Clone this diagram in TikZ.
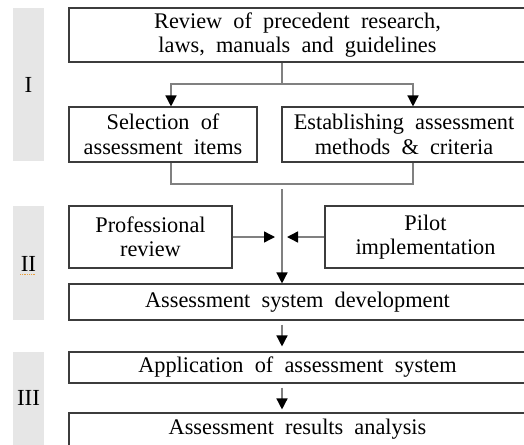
\documentclass[tikz,border=0pt]{standalone}
\usepackage{fontspec}
\setmainfont{Liberation Serif}[WordSpace=2.0]
\usetikzlibrary{arrows.meta,calc}
\definecolor{barfill}{HTML}{E6E6E6}
\definecolor{boxline}{HTML}{3C3C3C}
\definecolor{flowline}{HTML}{808080}
\definecolor{squiggle}{HTML}{E8A040}
\begin{document}
\begin{tikzpicture}[x=1pt,y=-1pt,
  stagebar/.style={fill=barfill,draw=none},
  stagelabel/.style={font=\fontsize{23}{26}\selectfont,inner sep=0pt},
  stepbox/.style={draw=boxline,line width=1.1pt,fill=white,align=center,
    inner sep=0pt,font=\fontsize{22.3}{24.5}\selectfont},
  flow/.style={draw=flowline,line width=1.4pt},
  flowarr/.style={flow,-{Triangle[length=11pt,width=11pt,color=black]}},
]
\useasboundingbox (0,0) rectangle (524,444);
\clip (0,0) rectangle (524,444);

% stage bars with roman numerals
\fill[stagebar] (13,8) rectangle (44,161);
\fill[stagebar] (13,206) rectangle (44,320);
\fill[stagebar] (13,352) rectangle (44,450);
\node[stagelabel] (s1) at (28.5,85) {I};
\node[stagelabel] (s2) at (28.5,264) {II};
\node[stagelabel] (s3) at (28.5,398) {III};
\draw[squiggle,densely dotted,line width=0.8pt] (20,274) -- (36,274);

% process steps
\node[stepbox,minimum width=457pt,minimum height=54pt] (top) at (297.5,35)
  {Review of precedent research,\\laws, manuals and guidelines};
\node[stepbox,minimum width=188pt,minimum height=55pt] (sel) at (163,134.5)
  {Selection of\\assessment items};
\node[stepbox,minimum width=244pt,minimum height=55pt] (est) at (404,134.5)
  {Establishing assessment\\methods \& criteria};
\node[stepbox,minimum width=163pt,minimum height=62pt] (prof) at (150.5,237)
  {Professional\\review};
\node[stepbox,minimum width=201pt,minimum height=62pt] (pilot) at (425.5,237)
  {Pilot\\implementation};
\node[stepbox,minimum width=457pt,minimum height=36pt] (dev) at (297.5,302)
  {Assessment system development};
\node[stepbox,minimum width=457pt,minimum height=31pt] (app) at (297.5,367.5)
  {Application of assessment system};
\node[stepbox,minimum width=457pt,minimum height=33pt] (res) at (297.5,429.5)
  {Assessment results analysis};

% connectors
\coordinate (split) at (282,84);
\coordinate (lx) at (171,0);
\coordinate (rx) at (413,0);
\coordinate (merge) at (282,184);
\coordinate (trunk) at (282,189);
\coordinate (inl) at (275,238);
\coordinate (inr) at (287,238);

\draw[flow] (top.south -| split) -- (split);
\draw[flowarr] (split) -| (lx |- sel.north);
\draw[flowarr] (split) -| (rx |- est.north);
\draw[flow] (lx |- sel.south) |- (merge) -| (rx |- est.south);
\draw[flowarr] (trunk) -- (trunk |- dev.north);
\draw[flowarr] (prof.east) -- (inl |- prof.east);
\draw[flowarr] (pilot.west) -- (inr |- pilot.west);
\draw[flowarr] ($(dev.south -| trunk)+(0,4)$) -- ($(app.north -| trunk)+(0,-5)$);
\draw[flowarr] ($(app.south -| trunk)+(0,4)$) -- ($(res.north -| trunk)+(0,-3)$);
\end{tikzpicture}
\end{document}
